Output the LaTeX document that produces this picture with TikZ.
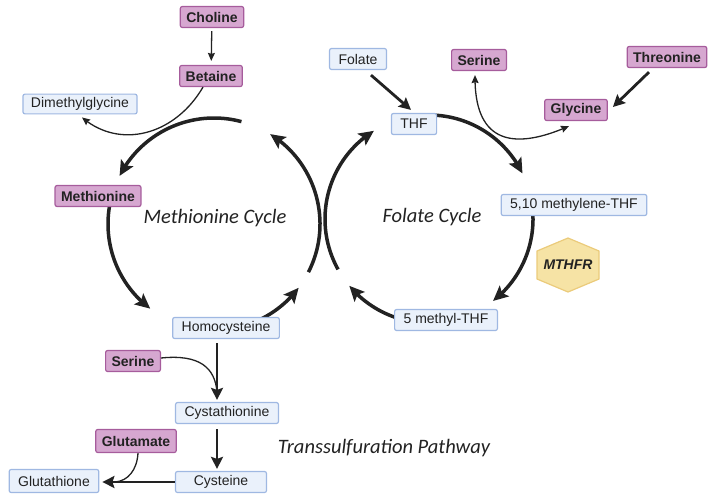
\documentclass[tikz,border=0pt]{standalone}
\usepackage{fontspec}
\setmainfont{Liberation Sans}
\newfontfamily\cyclefont{Carlito}
\usetikzlibrary{arrows.meta,bending}

\definecolor{pinkfill}{HTML}{D6A7D0}
\definecolor{pinkline}{HTML}{A65C9C}
\definecolor{bluefill}{HTML}{EAF1FB}
\definecolor{blueline}{HTML}{9FB8E2}
\definecolor{hexfill}{HTML}{F6E3A5}
\definecolor{hexline}{HTML}{EBCB7B}
\definecolor{inkdark}{HTML}{222222}

\newcommand\boxfont{\fontsize{14}{16}\selectfont}

\tikzset{
  pinkbox/.style={draw=pinkline, fill=pinkfill, rounded corners=2pt, line width=1.2pt,
    font={\boxfont\bfseries}, text=inkdark, minimum height=21pt, inner xsep=6pt},
  bluebox/.style={draw=blueline, fill=bluefill, rounded corners=2pt, line width=1.2pt,
    font=\boxfont, text=inkdark, minimum height=21pt, inner xsep=9pt},
  cyclearrow/.style={draw=inkdark, line width=3.5pt, -{Stealth[length=15pt,width=14pt,inset=3pt]}},
  midarrow/.style={draw=inkdark, line width=2.8pt, -{Stealth[length=12pt,width=12pt,inset=2pt]}},
  thinarrow/.style={draw=inkdark, line width=1.3pt, -{Stealth[length=8pt,width=7pt,inset=1pt]}},
  thinboth/.style={draw=inkdark, line width=1.3pt, {Stealth[length=8pt,width=7pt,inset=1pt]}-{Stealth[length=8pt,width=7pt,inset=1pt]}},
  thinline/.style={draw=inkdark, line width=1.3pt},
  cyclelabel/.style={font={\cyclefont\fontsize{20.5}{24}\selectfont\itshape}, text=inkdark},
  hexshape/.style={draw=hexline, fill=hexfill, line width=1.2pt, line join=round}
}

\begin{document}
\begin{tikzpicture}[x=1pt,y=-1pt]
\useasboundingbox (0,0) rectangle (708,501);

% cycle centres
\coordinate (mc) at (214,224);
\coordinate (fc) at (429,219);

% methionine cycle
\foreach \a/\b in {-75/-153, 195/127, 70/37, 27/-58}
  \draw[cyclearrow] ([shift={(\a:106)}]mc) arc[start angle=\a, end angle=\b, radius=106];

% folate cycle
\foreach \a/\b in {-95/-26, -8/52, 100/140, 151/238}
  \draw[cyclearrow] ([shift={(\a:104)}]fc) arc[start angle=\a, end angle=\b, radius=104];

% MTHFR
\coordinate (hx) at (568,265);
\draw[hexshape] (hx) ++(0,-27) -- ++(31,13) -- ++(0,28) -- ++(-31,13) -- ++(-31,-13) -- ++(0,-28) -- cycle;
\node[font={\boxfont\bfseries\itshape}, text=inkdark] (mthfr) at (hx) {MTHFR};

% nodes
\node[pinkbox] (cho) at (212,17) {Choline};
\node[pinkbox] (bet) at (211,76) {Betaine};
\node[bluebox, minimum height=18pt, inner xsep=8pt] (dmg) at (80,104) {Dimethylglycine};
\node[pinkbox] (met) at (98,196) {Methionine};
\node[bluebox] (hcy) at (226,328) {Homocysteine};
\node[pinkbox] (ser1) at (133,361) {Serine};
\node[bluebox] (cysta) at (227,413) {Cystathionine};
\node[pinkbox, minimum height=23pt] (glu) at (136,441) {Glutamate};
\node[bluebox, minimum height=23pt] (gsh) at (54,481) {Glutathione};
\node[bluebox, minimum width=91pt] (cys) at (221,482) {Cysteine};

\node[bluebox] (fol) at (358,59) {Folate};
\node[bluebox] (thf) at (414,124) {THF};
\node[pinkbox] (ser2) at (479,60) {Serine};
\node[pinkbox] (thr) at (667,57) {Threonine};
\node[pinkbox] (gly) at (576,110) {Glycine};
\node[bluebox] (mthf) at (574,205) {5,10 methylene-THF};
\node[bluebox] (mthf5) at (446,320) {5 methyl-THF};

\node[cyclelabel] (metlabel) at (215,218) {Methionine Cycle};
\node[cyclelabel] (follabel) at (432,217) {Folate Cycle};
\node[cyclelabel] (tslabel) at (384,448) {Transsulfuration Pathway};

% choline / betaine
\draw[thinarrow, shorten <=3pt, shorten >=4pt] (cho) -- (bet);
\draw[thinarrow] ([xshift=-8pt]bet.south) .. controls (175,135) and (120,150) .. ([xshift=2pt,yshift=-3pt]dmg.south);

% folate side
\draw[midarrow] ([xshift=13pt,yshift=-5pt]fol.south) -- ([xshift=-3pt,yshift=3pt]thf.north);
\draw[thinboth] ([xshift=-4pt,yshift=-4pt]ser2.south) .. controls (474,145) and (515,150) .. ([xshift=-7pt,yshift=-5pt]gly.south);
\draw[midarrow] ([xshift=-18pt,yshift=-4pt]thr.south) -- ([xshift=5pt,yshift=3pt]gly.east);

% transsulfuration
\coordinate (join1) at (217,392);
\coordinate (join2) at (115,482);
\draw[midarrow] ([xshift=-9pt,yshift=-4pt]hcy.south) -- ([xshift=-10pt,yshift=2pt]cysta.north);
\draw[thinline] ([yshift=3pt]ser1.east) .. controls (200,354) and (215,368) .. (join1);
\draw[midarrow] ([xshift=-10pt,yshift=-5pt]cysta.south) -- ([xshift=-4pt,yshift=2pt]cys.north);
\draw[midarrow, shorten >=3pt] (cys.west) -- (cys.west -| gsh.east);
\draw[thinline] ([xshift=2pt]glu.south) .. controls (137,470) and (128,481) .. (join2);
\end{tikzpicture}
\end{document}
